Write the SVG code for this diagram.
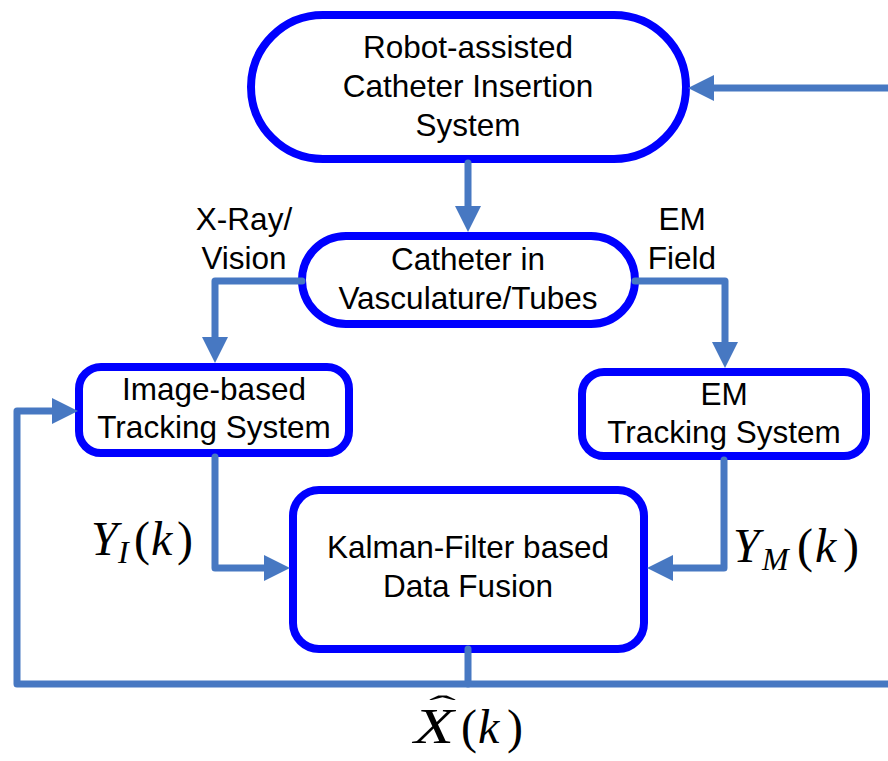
<svg xmlns="http://www.w3.org/2000/svg" width="888" height="761" viewBox="0 0 888 761">
  <style>
    .node { fill: #ffffff; stroke: #0000ff; stroke-width: 8; }
    .lbl { font-family: "Liberation Sans", Arial, sans-serif; font-size: 31.5px; fill: #000000; text-anchor: middle; }
    .wire { fill: none; stroke: #4778c2; stroke-width: 7; stroke-linecap: round; stroke-linejoin: round; }
    .math { font-family: "Liberation Serif", "Times New Roman", serif; fill: #000000; }
    .it { font-style: italic; }
  </style>
  <defs>
    <marker id="ah" markerUnits="userSpaceOnUse" markerWidth="26" markerHeight="26" refX="1" refY="13" orient="auto" viewBox="0 0 26 26">
      <path d="M0,0 L26,13 L0,26 z" fill="#4778c2"/>
    </marker>
  </defs>

  <!-- nodes -->
  <g id="robot">
    <rect class="node" x="251" y="15" width="435" height="144" rx="72" ry="72"/>
    <text class="lbl" x="468" y="58">Robot-assisted</text>
    <text class="lbl" x="468" y="97">Catheter Insertion</text>
    <text class="lbl" x="468" y="136">System</text>
  </g>
  <g id="catheter">
    <rect class="node" x="302" y="236" width="333" height="88" rx="44" ry="44"/>
    <text class="lbl" x="468" y="270">Catheter in</text>
    <text class="lbl" x="468" y="309">Vasculature/Tubes</text>
  </g>
  <g id="image-tracking">
    <rect class="node" x="79" y="367" width="270" height="86" rx="22" ry="22"/>
    <text class="lbl" x="214" y="400">Image-based</text>
    <text class="lbl" x="214" y="438">Tracking System</text>
  </g>
  <g id="em-tracking">
    <rect class="node" x="582" y="372" width="284" height="84" rx="22" ry="22"/>
    <text class="lbl" x="724" y="405">EM</text>
    <text class="lbl" x="724" y="443">Tracking System</text>
  </g>
  <g id="kalman">
    <rect class="node" x="293" y="490" width="351" height="159" rx="26" ry="26"/>
    <text class="lbl" x="468" y="558">Kalman-Filter based</text>
    <text class="lbl" x="468" y="597">Data Fusion</text>
  </g>

  <!-- connectors -->
  <g id="connectors">
    <path class="wire" d="M888,88 H713" marker-end="url(#ah)"/>
    <path class="wire" d="M468,163 V207" marker-end="url(#ah)"/>
    <path class="wire" d="M302,281 H215 V338" marker-end="url(#ah)"/>
    <path class="wire" d="M635,281 H725 V343" marker-end="url(#ah)"/>
    <path class="wire" d="M215,457 V568 H265" marker-end="url(#ah)"/>
    <path class="wire" d="M724,460 V568 H672" marker-end="url(#ah)"/>
    <path class="wire" d="M468,649 V684"/>
    <path class="wire" d="M888,684 H17 V411 H53" marker-end="url(#ah)"/>
  </g>

  <!-- connector labels -->
  <g id="labels">
    <text class="lbl" x="244" y="230">X-Ray/</text>
    <text class="lbl" x="244" y="269">Vision</text>
    <text class="lbl" x="682" y="230">EM</text>
    <text class="lbl" x="682" y="269">Field</text>

    <text class="math" font-size="48">
      <tspan class="it" x="91" y="555">Y</tspan><tspan class="it" x="118" y="563" font-size="32">I</tspan><tspan x="134" y="555">(</tspan><tspan class="it" x="151" y="555">k</tspan><tspan x="177" y="555">)</tspan>
    </text>
    <text class="math" font-size="48">
      <tspan class="it" x="733" y="562">Y</tspan><tspan class="it" x="762" y="570" font-size="32">M</tspan><tspan x="797" y="562">(</tspan><tspan class="it" x="815" y="562">k</tspan><tspan x="843" y="562">)</tspan>
    </text>
    <text class="math it" font-size="50" x="414" y="743" textLength="40" lengthAdjust="spacingAndGlyphs">X</text>
    <text class="math" font-size="48">
      <tspan x="461" y="743">(</tspan><tspan class="it" x="478" y="743">k</tspan><tspan x="507" y="743">)</tspan>
    </text>
    <text class="math" font-size="30" x="429" y="716" textLength="27" lengthAdjust="spacingAndGlyphs">ˆ</text>
  </g>
</svg>
